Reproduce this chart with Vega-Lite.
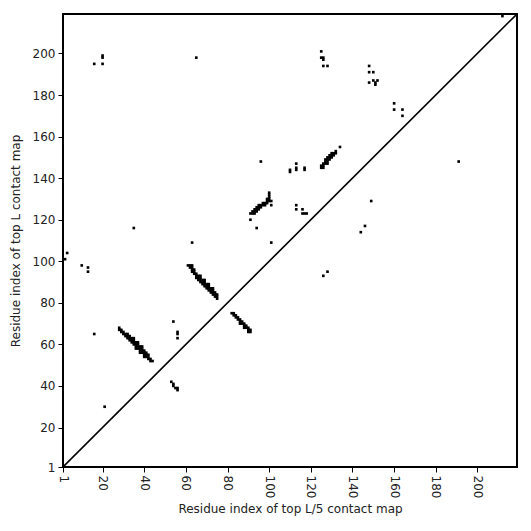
{
  "$schema": "https://vega.github.io/schema/vega-lite/v6.json",
  "width": 454,
  "height": 453,
  "autosize": "none",
  "padding": {"left": 63, "top": 14, "right": 14, "bottom": 64},
  "background": "white",
  "config": {
    "font": "DejaVu Sans",
    "view": {"stroke": "black", "strokeWidth": 2},
    "axis": {
      "domain": false,
      "grid": false,
      "tickColor": "black",
      "tickSize": 5,
      "tickWidth": 1,
      "labelColor": "#222",
      "labelFontSize": 12,
      "labelFont": "DejaVu Sans",
      "titleFont": "DejaVu Sans",
      "titleFontSize": 12,
      "titleFontWeight": "normal",
      "titleColor": "#222",
      "labelPadding": 3
    }
  },
  "datasets": {
    "contacts": [
      {"x":20,"y":199},{"x":20,"y":198},{"x":20,"y":195},{"x":16,"y":195},{"x":65,"y":198},
      {"x":125,"y":201},{"x":125,"y":198},{"x":126,"y":198},{"x":126,"y":197},{"x":126,"y":194},{"x":128,"y":194},
      {"x":148,"y":194},{"x":148,"y":191},{"x":150,"y":191},{"x":148,"y":186},{"x":150,"y":187},{"x":151,"y":186},{"x":151,"y":185},{"x":152,"y":187},
      {"x":160,"y":176},{"x":160,"y":173},{"x":164,"y":173},{"x":164,"y":170},
      {"x":191,"y":148},{"x":212,"y":218},
      {"x":96,"y":148},{"x":134,"y":155},
      {"x":113,"y":147},{"x":113,"y":145},{"x":113,"y":144},{"x":110,"y":143},{"x":110,"y":144},{"x":117,"y":145},{"x":117,"y":144},
      {"x":113,"y":127},{"x":113,"y":125},{"x":116,"y":125},{"x":116,"y":123},{"x":117,"y":123},{"x":118,"y":123},
      {"x":149,"y":129},{"x":146,"y":117},{"x":144,"y":114},
      {"x":128,"y":95},{"x":126,"y":93},
      {"x":91,"y":120},{"x":94,"y":116},{"x":101,"y":109},
      {"x":35,"y":116},{"x":63,"y":109},
      {"x":3,"y":104},{"x":2,"y":101},{"x":10,"y":98},{"x":13,"y":97},{"x":13,"y":95},
      {"x":16,"y":65},{"x":54,"y":71},{"x":56,"y":66},{"x":56,"y":65},{"x":56,"y":63},
      {"x":53,"y":42},{"x":54,"y":41},{"x":54,"y":40},{"x":55,"y":39},{"x":56,"y":39},{"x":56,"y":38},
      {"x":21,"y":30},

      {"x":28,"y":68},{"x":28,"y":67},{"x":29,"y":67},{"x":29,"y":66},{"x":30,"y":66},{"x":30,"y":65},{"x":31,"y":65},{"x":31,"y":64},
      {"x":32,"y":64},{"x":32,"y":63},{"x":32,"y":65},{"x":33,"y":63},{"x":33,"y":62},{"x":33,"y":64},
      {"x":34,"y":62},{"x":34,"y":61},{"x":34,"y":63},{"x":35,"y":61},{"x":35,"y":60},{"x":35,"y":62},
      {"x":36,"y":60},{"x":36,"y":59},{"x":36,"y":61},{"x":37,"y":59},{"x":37,"y":58},{"x":37,"y":60},
      {"x":38,"y":58},{"x":38,"y":57},{"x":38,"y":59},{"x":39,"y":57},{"x":39,"y":56},{"x":39,"y":58},
      {"x":40,"y":56},{"x":40,"y":55},{"x":40,"y":57},{"x":41,"y":55},{"x":41,"y":54},{"x":41,"y":56},
      {"x":42,"y":54},{"x":42,"y":53},{"x":42,"y":55},{"x":43,"y":53},{"x":43,"y":52},{"x":44,"y":52},
      {"x":35,"y":63},{"x":37,"y":61},{"x":39,"y":59},{"x":36,"y":58},{"x":38,"y":56},{"x":40,"y":54},

      {"x":61,"y":98},{"x":62,"y":98},{"x":63,"y":98},{"x":62,"y":97},{"x":63,"y":97},{"x":63,"y":96},{"x":64,"y":96},{"x":63,"y":95},
      {"x":64,"y":95},{"x":64,"y":94},{"x":65,"y":94},{"x":65,"y":93},{"x":66,"y":93},{"x":66,"y":92},{"x":67,"y":92},{"x":67,"y":91},
      {"x":68,"y":91},{"x":68,"y":90},{"x":69,"y":90},{"x":69,"y":89},{"x":70,"y":89},{"x":70,"y":88},{"x":71,"y":88},{"x":71,"y":87},
      {"x":72,"y":87},{"x":72,"y":86},{"x":73,"y":86},{"x":73,"y":85},{"x":74,"y":85},{"x":74,"y":84},{"x":75,"y":84},{"x":75,"y":83},{"x":75,"y":82},
      {"x":65,"y":92},{"x":66,"y":91},{"x":67,"y":90},{"x":68,"y":89},{"x":69,"y":88},{"x":70,"y":87},{"x":71,"y":86},{"x":72,"y":85},{"x":73,"y":84},{"x":74,"y":83},
      {"x":67,"y":93},{"x":69,"y":91},{"x":71,"y":89},{"x":73,"y":87},

      {"x":82,"y":75},{"x":83,"y":75},{"x":83,"y":74},{"x":84,"y":74},{"x":84,"y":73},{"x":85,"y":73},{"x":85,"y":72},{"x":86,"y":72},
      {"x":86,"y":71},{"x":87,"y":71},{"x":87,"y":70},{"x":88,"y":70},{"x":88,"y":69},{"x":89,"y":69},{"x":89,"y":68},{"x":90,"y":68},
      {"x":90,"y":67},{"x":91,"y":67},{"x":91,"y":66},{"x":86,"y":70},{"x":88,"y":68},{"x":90,"y":66},

      {"x":125,"y":145},{"x":125,"y":146},{"x":126,"y":146},{"x":126,"y":147},{"x":127,"y":147},{"x":127,"y":148},{"x":127,"y":149},
      {"x":128,"y":148},{"x":128,"y":149},{"x":128,"y":150},{"x":129,"y":149},{"x":129,"y":150},{"x":129,"y":151},{"x":130,"y":150},
      {"x":130,"y":151},{"x":130,"y":152},{"x":131,"y":151},{"x":131,"y":152},{"x":132,"y":152},{"x":132,"y":153},{"x":126,"y":145},{"x":128,"y":147},

      {"x":91,"y":123},{"x":92,"y":123},{"x":93,"y":123},{"x":92,"y":124},{"x":93,"y":124},{"x":94,"y":124},{"x":93,"y":125},{"x":94,"y":125},
      {"x":95,"y":125},{"x":94,"y":126},{"x":95,"y":126},{"x":96,"y":126},{"x":95,"y":127},{"x":96,"y":127},{"x":97,"y":127},{"x":97,"y":128},
      {"x":98,"y":128},{"x":98,"y":127},{"x":99,"y":128},{"x":99,"y":129},{"x":100,"y":129},{"x":99,"y":130},{"x":100,"y":130},{"x":100,"y":131},
      {"x":101,"y":129},{"x":101,"y":127},{"x":100,"y":133},{"x":100,"y":132}
    ],
    "diag": [{"x":1,"y":1},{"x":219,"y":219}]
  },
  "layer": [
    {
      "data": {"name": "diag"},
      "mark": {"type": "line", "color": "black", "strokeWidth": 1.6, "clip": true},
      "encoding": {
        "x": {"field": "x", "type": "quantitative"},
        "y": {"field": "y", "type": "quantitative"}
      }
    },
    {
      "data": {"name": "contacts"},
      "mark": {"type": "square", "color": "black", "filled": true, "opacity": 1, "size": 7},
      "encoding": {
        "x": {
          "field": "x", "type": "quantitative",
          "scale": {"domain": [1, 219], "nice": false, "zero": false},
          "axis": {"values": [1,20,40,60,80,100,120,140,160,180,200], "labelAngle": 90, "title": "Residue index of top L/5 contact map", "titlePadding": 6}
        },
        "y": {
          "field": "y", "type": "quantitative",
          "scale": {"domain": [1, 219], "nice": false, "zero": false},
          "axis": {"values": [1,20,40,60,80,100,120,140,160,180,200], "title": "Residue index of top L contact map", "titlePadding": 10}
        }
      }
    }
  ]
}
